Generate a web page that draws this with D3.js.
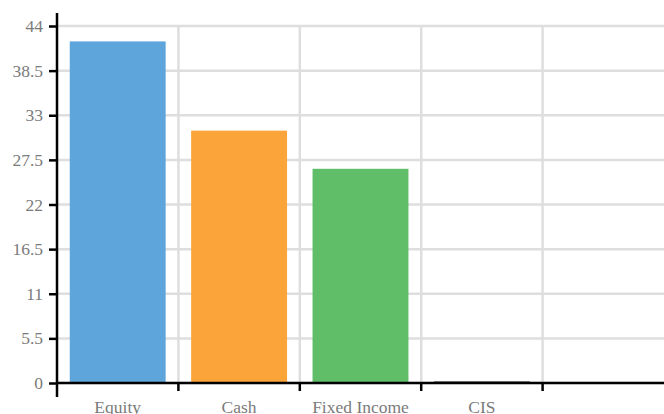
<!DOCTYPE html>
<html lang="en">
<head>
  <meta charset="utf-8">
  <title>Allocation</title>
  <script src="https://d3js.org/d3.v7.min.js"></script>
  <style>
    body { margin: 0; background: #fff; }
    svg text { font-family: "Liberation Serif", "Times New Roman", serif; fill: #7b7b7b; }
  </style>
</head>
<body>
  <div id="chart"></div>
  <script>
    // data
    var categories = ["Equity", "Cash", "Fixed Income", "CIS"];
    var values = [42.1, 31.1, 26.4, 0.2];
    var colors = ["#5DA5DA", "#FAA43A", "#60BD68", "#4D4D4D"];
    var yTicks = [0, 5.5, 11, 16.5, 22, 27.5, 33, 38.5, 44];

    var w = 664, h = 414;
    // (can't call it "top", that one belongs to window)
    var mLeft = 57, mBottom = 383, mTop = 13;

    var svg = d3.select("#chart").append("svg")
      .attr("width", w)
      .attr("height", h);

    // one empty slot at the right end
    var slots = categories.concat([""]);
    var x = d3.scaleBand().domain(slots).range([mLeft, w]);
    var y = d3.scaleLinear().domain([0, 44 * (mBottom - mTop) / 357]).range([mBottom, mTop]);

    // grid
    svg.append("g").selectAll("line")
      .data(yTicks)
      .enter().append("line")
      .attr("x1", mLeft).attr("x2", w)
      .attr("y1", d => y(d)).attr("y2", d => y(d))
      .style("stroke", "#dedede").style("stroke-width", 2.5);

    svg.append("g").selectAll("line")
      .data(slots.slice(1))
      .enter().append("line")
      .attr("x1", d => x(d)).attr("x2", d => x(d))
      .attr("y1", y(44)).attr("y2", mBottom)
      .style("stroke", "#dedede").style("stroke-width", 2.5);

    // bars
    var inset = x.bandwidth() * 0.105;
    svg.append("g").selectAll("rect")
      .data(categories)
      .enter().append("rect")
      .attr("x", d => x(d) + inset)
      .attr("width", x.bandwidth() - 2 * inset)
      .attr("y", (d, i) => y(values[i]))
      .attr("height", (d, i) => mBottom - y(values[i]))
      .style("fill", (d, i) => colors[i]);

    // y axis
    var yAxis = svg.append("g")
      .attr("transform", "translate(" + mLeft + ",0)")
      .call(d3.axisLeft(y).tickValues(yTicks).tickSize(8).tickPadding(6).tickSizeOuter(0)
        .tickFormat(d => d));
    yAxis.select(".domain").remove();
    yAxis.selectAll(".tick line").style("stroke", "#000").style("stroke-width", 2.5);
    yAxis.selectAll("text").style("font-size", "17.5px");
    svg.append("line")
      .attr("x1", mLeft).attr("x2", mLeft)
      .attr("y1", mTop).attr("y2", mBottom + 14)
      .style("stroke", "#000").style("stroke-width", 2.5);

    // x axis
    svg.append("line")
      .attr("x1", mLeft).attr("x2", w)
      .attr("y1", mBottom).attr("y2", mBottom)
      .style("stroke", "#000").style("stroke-width", 2.5);

    svg.append("g").selectAll("line")
      .data(slots.slice(1))
      .enter().append("line")
      .attr("x1", d => x(d)).attr("x2", d => x(d))
      .attr("y1", mBottom).attr("y2", mBottom + 8)
      .style("stroke", "#000").style("stroke-width", 2.5);

    svg.append("g").selectAll("text")
      .data(categories)
      .enter().append("text")
      .attr("x", d => x(d) + x.bandwidth() / 2)
      .attr("y", 413)
      .attr("text-anchor", "middle")
      .style("font-size", "17.5px")
      .text(d => d);
  </script>
</body>
</html>
